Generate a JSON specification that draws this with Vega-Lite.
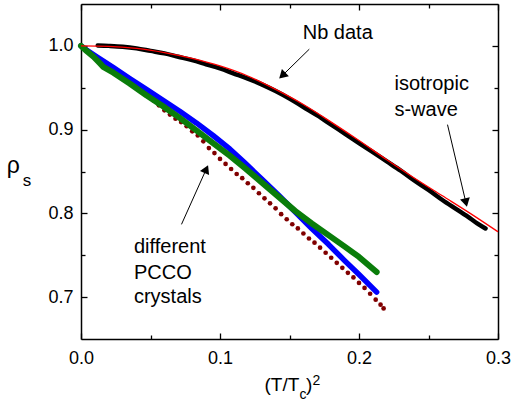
{
  "$schema": "https://vega.github.io/schema/vega-lite/v6.json",
  "width": 417,
  "height": 335,
  "autosize": {"type": "none"},
  "padding": {"left": 81, "top": 4, "right": 14, "bottom": 68},
  "background": "white",
  "config": {
    "view": {"stroke": null},
    "axis": {
      "domainColor": "black", "domainWidth": 1.5, "tickColor": "black", "tickWidth": 1.3,
      "labelFont": "Liberation Sans", "labelFontSize": 18, "labelColor": "black",
      "grid": false, "title": null
    },
    "text": {"font": "Liberation Sans", "color": "black"}
  },
  "datasets": {
    "pcco_red": [
      {"x": 0.000, "y": 1.000}, {"x": 0.004, "y": 0.995}, {"x": 0.008, "y": 0.990}, {"x": 0.012, "y": 0.985},
      {"x": 0.016, "y": 0.981}, {"x": 0.020, "y": 0.976}, {"x": 0.024, "y": 0.971}, {"x": 0.028, "y": 0.966},
      {"x": 0.032, "y": 0.962}, {"x": 0.036, "y": 0.957}, {"x": 0.040, "y": 0.952}, {"x": 0.044, "y": 0.947},
      {"x": 0.048, "y": 0.942}, {"x": 0.052, "y": 0.935}, {"x": 0.056, "y": 0.929}, {"x": 0.060, "y": 0.923},
      {"x": 0.064, "y": 0.918}, {"x": 0.068, "y": 0.913}, {"x": 0.072, "y": 0.909}, {"x": 0.076, "y": 0.904},
      {"x": 0.080, "y": 0.898}, {"x": 0.084, "y": 0.893}, {"x": 0.088, "y": 0.886}, {"x": 0.092, "y": 0.878},
      {"x": 0.096, "y": 0.872}, {"x": 0.100, "y": 0.865}, {"x": 0.104, "y": 0.859}, {"x": 0.108, "y": 0.853},
      {"x": 0.112, "y": 0.847}, {"x": 0.116, "y": 0.842}, {"x": 0.120, "y": 0.836}, {"x": 0.124, "y": 0.8305},
      {"x": 0.128, "y": 0.824}, {"x": 0.132, "y": 0.818}, {"x": 0.136, "y": 0.812}, {"x": 0.140, "y": 0.806},
      {"x": 0.144, "y": 0.799}, {"x": 0.148, "y": 0.793}, {"x": 0.152, "y": 0.787}, {"x": 0.156, "y": 0.782},
      {"x": 0.160, "y": 0.776}, {"x": 0.164, "y": 0.770}, {"x": 0.168, "y": 0.765}, {"x": 0.172, "y": 0.759},
      {"x": 0.176, "y": 0.753}, {"x": 0.180, "y": 0.747}, {"x": 0.184, "y": 0.741}, {"x": 0.188, "y": 0.735},
      {"x": 0.192, "y": 0.729}, {"x": 0.196, "y": 0.7235}, {"x": 0.200, "y": 0.717}, {"x": 0.204, "y": 0.711},
      {"x": 0.208, "y": 0.704}, {"x": 0.212, "y": 0.697}, {"x": 0.2155, "y": 0.691}, {"x": 0.2177, "y": 0.6865}
    ],
    "pcco_blue": [
      {"x": 0.000, "y": 1.000}, {"x": 0.004, "y": 0.995}, {"x": 0.0113, "y": 0.987}, {"x": 0.0233, "y": 0.974},
      {"x": 0.035, "y": 0.961}, {"x": 0.047, "y": 0.948}, {"x": 0.059, "y": 0.935}, {"x": 0.071, "y": 0.922},
      {"x": 0.083, "y": 0.908}, {"x": 0.095, "y": 0.893}, {"x": 0.107, "y": 0.877}, {"x": 0.118, "y": 0.860},
      {"x": 0.130, "y": 0.841}, {"x": 0.142, "y": 0.822}, {"x": 0.154, "y": 0.802}, {"x": 0.166, "y": 0.782},
      {"x": 0.178, "y": 0.763}, {"x": 0.190, "y": 0.743}, {"x": 0.200, "y": 0.727}, {"x": 0.2127, "y": 0.706}
    ],
    "pcco_green": [
      {"x": 0.000, "y": 1.000}, {"x": 0.004, "y": 0.994}, {"x": 0.009, "y": 0.987}, {"x": 0.0137, "y": 0.979},
      {"x": 0.016, "y": 0.975}, {"x": 0.0233, "y": 0.968}, {"x": 0.035, "y": 0.955}, {"x": 0.047, "y": 0.941},
      {"x": 0.059, "y": 0.928}, {"x": 0.071, "y": 0.914}, {"x": 0.083, "y": 0.899}, {"x": 0.095, "y": 0.884},
      {"x": 0.107, "y": 0.869}, {"x": 0.118, "y": 0.854}, {"x": 0.130, "y": 0.837}, {"x": 0.142, "y": 0.820},
      {"x": 0.154, "y": 0.803}, {"x": 0.166, "y": 0.788}, {"x": 0.178, "y": 0.774}, {"x": 0.190, "y": 0.760},
      {"x": 0.200, "y": 0.748}, {"x": 0.2127, "y": 0.730}
    ],
    "nb": [
      {"x": 0.012, "y": 1.0005}, {"x": 0.02, "y": 1.000}, {"x": 0.03, "y": 0.999}, {"x": 0.04, "y": 0.997},
      {"x": 0.05, "y": 0.994}, {"x": 0.06, "y": 0.991}, {"x": 0.07, "y": 0.987}, {"x": 0.08, "y": 0.983},
      {"x": 0.09, "y": 0.978}, {"x": 0.10, "y": 0.973}, {"x": 0.11, "y": 0.967}, {"x": 0.12, "y": 0.961},
      {"x": 0.13, "y": 0.954}, {"x": 0.14, "y": 0.946}, {"x": 0.15, "y": 0.937}, {"x": 0.16, "y": 0.927},
      {"x": 0.17, "y": 0.917}, {"x": 0.18, "y": 0.906}, {"x": 0.19, "y": 0.895}, {"x": 0.20, "y": 0.884},
      {"x": 0.21, "y": 0.873}, {"x": 0.22, "y": 0.862}, {"x": 0.23, "y": 0.851}, {"x": 0.24, "y": 0.839},
      {"x": 0.25, "y": 0.828}, {"x": 0.26, "y": 0.816}, {"x": 0.27, "y": 0.805}, {"x": 0.28, "y": 0.794},
      {"x": 0.285, "y": 0.788}, {"x": 0.291, "y": 0.782}
    ],
    "swave": [
      {"x": 0.00, "y": 1.000}, {"x": 0.02, "y": 0.9995}, {"x": 0.04, "y": 0.997}, {"x": 0.06, "y": 0.992},
      {"x": 0.08, "y": 0.985}, {"x": 0.10, "y": 0.976}, {"x": 0.12, "y": 0.964}, {"x": 0.14, "y": 0.948},
      {"x": 0.16, "y": 0.930}, {"x": 0.18, "y": 0.909}, {"x": 0.20, "y": 0.887}, {"x": 0.22, "y": 0.864},
      {"x": 0.24, "y": 0.842}, {"x": 0.26, "y": 0.821}, {"x": 0.28, "y": 0.800}, {"x": 0.30, "y": 0.778}
    ],
    "arrows": [
      {"x": 0.14482, "y": 0.96452, "x2": 0.16424, "y2": 0.99607, "angle": 225.6},
      {"x": 0.27691, "y": 0.81298, "x2": 0.26367, "y2": 0.90595, "angle": 166.8},
      {"x": 0.09014, "y": 0.85286, "x2": 0.0723, "y2": 0.7869, "angle": 24.1}
    ],
    "labels": [
      {"text": "Nb data", "x": 0.1595, "y": 1.008, "size": 20},
      {"text": "isotropic", "x": 0.2255, "y": 0.9468, "size": 20},
      {"text": "s-wave", "x": 0.2255, "y": 0.9158, "size": 20},
      {"text": "different", "x": 0.0381, "y": 0.7524, "size": 20},
      {"text": "PCCO", "x": 0.0381, "y": 0.7214, "size": 20},
      {"text": "crystals", "x": 0.0381, "y": 0.6925, "size": 20},
      {"text": "(T/T", "x": 0.13201, "y": 0.58845, "size": 19},
      {"text": "c", "x": 0.15719, "y": 0.57857, "size": 14},
      {"text": ")", "x": 0.16187, "y": 0.58845, "size": 19},
      {"text": "2", "x": 0.16655, "y": 0.59524, "size": 14},
      {"text": "ρ", "x": -0.05345, "y": 0.84762, "size": 23},
      {"text": "s", "x": -0.04194, "y": 0.8325, "size": 17}
    ]
  },
  "encoding": {
    "x": {"field": "x", "type": "quantitative", "scale": {"domain": [0, 0.3], "nice": false, "zero": false}, "axis": null},
    "y": {"field": "y", "type": "quantitative", "scale": {"domain": [0.65, 1.05], "nice": false, "zero": false}, "axis": null}
  },
  "layer": [
    {
      "data": {"name": "pcco_red"},
      "mark": {"type": "point", "filled": true, "shape": "circle", "size": 22, "color": "#800000", "opacity": 1},
      "encoding": {
        "x": {"field": "x", "type": "quantitative", "scale": {"domain": [0, 0.3], "nice": false, "zero": false},
          "axis": {"orient": "bottom", "values": [0, 0.05, 0.1, 0.15, 0.2, 0.25, 0.3],
            "labelExpr": "abs(datum.value*10 - round(datum.value*10)) < 0.001 ? format(datum.value, '.1f') : ''",
            "tickSize": {"condition": {"test": "abs(datum.value*10 - round(datum.value*10)) < 0.001", "value": -6}, "value": -4},
            "labelPadding": 16, "labelFlush": false, "labelOverlap": false}},
        "y": {"field": "y", "type": "quantitative", "scale": {"domain": [0.65, 1.05], "nice": false, "zero": false},
          "axis": {"orient": "left", "values": [0.7, 0.75, 0.8, 0.85, 0.9, 0.95, 1.0],
            "labelExpr": "abs(datum.value*10 - round(datum.value*10)) < 0.001 ? format(datum.value, '.1f') : ''",
            "tickSize": {"condition": {"test": "abs(datum.value*10 - round(datum.value*10)) < 0.001", "value": -6}, "value": -4},
            "labelPadding": 14, "labelFlush": false, "labelOverlap": false}}
      }
    },
    {
      "data": {"name": "pcco_blue"},
      "mark": {"type": "line", "color": "#0000ff", "strokeWidth": 5.5, "strokeCap": "round", "strokeJoin": "round"},
      "encoding": {
        "x": {"field": "x", "type": "quantitative", "scale": {"domain": [0, 0.3], "nice": false, "zero": false},
          "axis": {"orient": "top", "values": [0, 0.05, 0.1, 0.15, 0.2, 0.25, 0.3], "labels": false,
            "tickSize": {"condition": {"test": "abs(datum.value*10 - round(datum.value*10)) < 0.001", "value": -6}, "value": -4}}},
        "y": {"field": "y", "type": "quantitative", "scale": {"domain": [0.65, 1.05], "nice": false, "zero": false},
          "axis": {"orient": "right", "values": [0.7, 0.75, 0.8, 0.85, 0.9, 0.95, 1.0], "labels": false,
            "tickSize": {"condition": {"test": "abs(datum.value*10 - round(datum.value*10)) < 0.001", "value": -6}, "value": -4}}}
      }
    },
    {
      "data": {"name": "pcco_green"},
      "mark": {"type": "line", "color": "#0a7d0a", "strokeWidth": 6, "strokeCap": "round", "strokeJoin": "round"}
    },
    {
      "data": {"name": "nb"},
      "mark": {"type": "line", "color": "black", "strokeWidth": 4.5, "strokeCap": "round", "interpolate": "monotone"}
    },
    {
      "data": {"name": "swave"},
      "mark": {"type": "line", "color": "#ff0000", "strokeWidth": 1.3, "interpolate": "monotone"}
    },
    {
      "data": {"name": "arrows"},
      "mark": {"type": "rule", "color": "black", "strokeWidth": 1},
      "encoding": {
        "x2": {"field": "x2"},
        "y2": {"field": "y2"}
      }
    },
    {
      "data": {"name": "arrows"},
      "mark": {"type": "point", "shape": "triangle-up", "filled": true, "size": 100, "color": "black", "opacity": 1},
      "encoding": {
        "angle": {"field": "angle", "type": "quantitative", "scale": null}
      }
    },
    {
      "data": {"name": "labels"},
      "mark": {"type": "text", "baseline": "alphabetic", "align": "left"},
      "encoding": {
        "text": {"field": "text"},
        "size": {"field": "size", "type": "quantitative", "scale": null}
      }
    }
  ],
  "resolve": {"axis": {"x": "independent", "y": "independent"}}
}
